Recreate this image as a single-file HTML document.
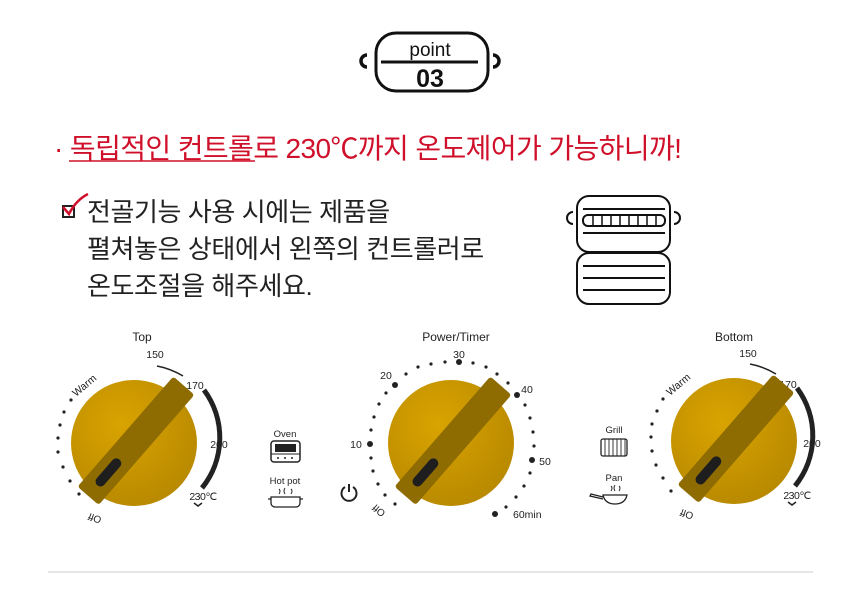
<!DOCTYPE html>
<html><head><meta charset="utf-8"><style>
html,body{margin:0;padding:0;background:#fff;}
body{width:860px;height:592px;position:relative;overflow:hidden;font-family:"Liberation Sans","Noto Sans CJK KR",sans-serif;}
.t{position:absolute;white-space:nowrap;}
</style></head><body>
<svg width="860" height="592" style="position:absolute;left:0;top:0" xmlns="http://www.w3.org/2000/svg">
<defs>
<radialGradient id="g" cx="0.4" cy="0.35" r="0.75"><stop offset="0" stop-color="#d9a400"/><stop offset="1" stop-color="#b58600"/></radialGradient>
<g id="knob">
<circle r="63" fill="url(#g)"/>
<g transform="rotate(-49)">
<rect x="-70" y="-14" width="146" height="28" rx="3" fill="#8f6c02"/>
<rect x="-56" y="-5" width="34" height="10" rx="5" fill="#1e1e1e"/>
</g>
</g>
</defs>
<!-- point badge -->
<rect x="376" y="33" width="112" height="58" rx="20" fill="none" stroke="#111" stroke-width="3"/>
<line x1="381" y1="62" x2="478" y2="62" stroke="#111" stroke-width="3"/>
<path d="M367 55 a6 6 0 0 0 0 12" fill="none" stroke="#111" stroke-width="3.5"/>
<path d="M493 55 a6 6 0 0 1 0 12" fill="none" stroke="#111" stroke-width="3.5"/>
<text x="430" y="56" font-size="19" text-anchor="middle" font-family="Liberation Sans, sans-serif" fill="#111">point</text>
<text x="430" y="87" font-size="25" font-weight="bold" text-anchor="middle" font-family="Liberation Sans, sans-serif" fill="#111">03</text>
<!-- underline -->
<line x1="69" y1="161" x2="255" y2="161" stroke="#d0102a" stroke-width="1.5"/>
<!-- checkbox -->
<rect x="63" y="206" width="11" height="11" fill="none" stroke="#222" stroke-width="2"/>
<path d="M63 207 L69 214 Q76 200 88 194" fill="none" stroke="#d0102a" stroke-width="2.5"/>
<!-- grill icon -->
<rect x="577" y="196" width="93" height="56" rx="12" fill="none" stroke="#111" stroke-width="2"/>
<rect x="577" y="253" width="93" height="51" rx="12" fill="none" stroke="#111" stroke-width="2"/>
<path d="M573 212 a6 6 0 0 0 0 12" fill="none" stroke="#111" stroke-width="2"/>
<path d="M674 212 a6 6 0 0 1 0 12" fill="none" stroke="#111" stroke-width="2"/>
<line x1="583" y1="209" x2="665" y2="209" stroke="#111" stroke-width="2"/>
<line x1="583" y1="233" x2="665" y2="233" stroke="#111" stroke-width="2"/>
<rect x="583" y="215" width="82" height="11" rx="5" fill="none" stroke="#111" stroke-width="2"/>
<g stroke="#111" stroke-width="1.5"><line x1="593" y1="215" x2="593" y2="226"/><line x1="602" y1="215" x2="602" y2="226"/><line x1="611" y1="215" x2="611" y2="226"/><line x1="620" y1="215" x2="620" y2="226"/><line x1="629" y1="215" x2="629" y2="226"/><line x1="638" y1="215" x2="638" y2="226"/><line x1="647" y1="215" x2="647" y2="226"/><line x1="656" y1="215" x2="656" y2="226"/></g>
<line x1="583" y1="266" x2="665" y2="266" stroke="#111" stroke-width="2"/>
<line x1="583" y1="278" x2="665" y2="278" stroke="#111" stroke-width="2"/>
<line x1="583" y1="290" x2="665" y2="290" stroke="#111" stroke-width="2"/>

<!-- Top knob -->
<g font-family="Liberation Sans, sans-serif" fill="#222">
<text x="142" y="341" font-size="12" text-anchor="middle">Top</text>
<text x="155" y="358" font-size="10.5" text-anchor="middle">150</text>
<text x="195" y="389" font-size="10.5" text-anchor="middle">170</text>
<text x="219" y="448" font-size="10.5" text-anchor="middle">200</text>
<text x="203" y="500" font-size="10.5" text-anchor="middle" letter-spacing="-0.5">230℃</text>
<text x="0" y="0" font-size="10.5" transform="translate(76,397) rotate(-40)">Warm</text>
<text x="0" y="0" font-size="10" transform="translate(96,515) rotate(200)" text-anchor="middle">Off</text>
</g>
<path d="M157 366 A80 80 0 0 1 183 376" fill="none" stroke="#222" stroke-width="1.5"/>
<path d="M204 390 A80 80 0 0 1 202 488" fill="none" stroke="#222" stroke-width="5"/>
<path d="M194 503 l4 3 l4-3" fill="none" stroke="#222" stroke-width="1.5"/>
<g fill="#222"><circle cx="71" cy="400" r="1.6"/><circle cx="64" cy="412" r="1.6"/><circle cx="60" cy="425" r="1.6"/><circle cx="58" cy="438" r="1.6"/><circle cx="58" cy="452" r="1.6"/><circle cx="63" cy="467" r="1.6"/><circle cx="70" cy="481" r="1.6"/><circle cx="79" cy="494" r="1.6"/></g>
<use href="#knob" x="134" y="443"/>

<!-- Oven / Hot pot -->
<g font-family="Liberation Sans, sans-serif" fill="#222" font-size="9.5" text-anchor="middle">
<text x="285" y="437">Oven</text><text x="285" y="484">Hot pot</text>
<text x="614" y="433">Grill</text><text x="614" y="481">Pan</text>
</g>
<rect x="271" y="441" width="29" height="21" rx="3" fill="none" stroke="#222" stroke-width="1.5"/>
<rect x="275" y="444" width="21" height="8" fill="#222"/>
<line x1="271" y1="454" x2="300" y2="454" stroke="#222" stroke-width="1"/>
<g fill="#222"><circle cx="278" cy="458" r="1"/><circle cx="285" cy="458" r="1"/><circle cx="292" cy="458" r="1"/></g>
<path d="M271 497 h29 v6 a4 4 0 0 1 -4 4 h-21 a4 4 0 0 1 -4 -4z M268 499 h3 M300 499 h3" fill="none" stroke="#222" stroke-width="1.3"/>
<path d="M279 489 q2 2 0 5 M285 488 q-2 3 0 6 M291 489 q2 2 0 5" fill="none" stroke="#222" stroke-width="1"/>
<!-- grill small -->
<rect x="601" y="439" width="26" height="17" rx="2" fill="none" stroke="#222" stroke-width="1.3"/>
<g stroke="#222" stroke-width="0.9"><line x1="605" y1="439" x2="605" y2="456"/><line x1="609" y1="439" x2="609" y2="456"/><line x1="613" y1="439" x2="613" y2="456"/><line x1="617" y1="439" x2="617" y2="456"/><line x1="621" y1="439" x2="621" y2="456"/><line x1="625" y1="439" x2="625" y2="456"/></g>
<path d="M603 495 h24 q-2 9 -12 9 q-10 0 -12 -9z M603 497 l-12 -3 l-1 2 l13 3" fill="none" stroke="#222" stroke-width="1.3"/>
<path d="M611 486 q2 2 0 5 M615 485 q-2 3 0 6 M619 486 q2 2 0 5" fill="none" stroke="#222" stroke-width="1"/>

<!-- Timer -->
<g font-family="Liberation Sans, sans-serif" fill="#222" font-size="10.5">
<text x="456" y="341" font-size="12" text-anchor="middle">Power/Timer</text>
<text x="459" y="358" text-anchor="middle">30</text>
<text x="386" y="379" text-anchor="middle">20</text>
<text x="527" y="393" text-anchor="middle">40</text>
<text x="356" y="448" text-anchor="middle">10</text>
<text x="545" y="465" text-anchor="middle">50</text>
<text x="513" y="518">60min</text>
<text x="0" y="0" font-size="10" transform="translate(381,508) rotate(220)" text-anchor="middle">Off</text>
</g>
<g fill="#222">
<circle cx="459" cy="362" r="3"/><circle cx="395" cy="385" r="3"/><circle cx="517" cy="395" r="3"/><circle cx="370" cy="444" r="3"/><circle cx="532" cy="460" r="3"/><circle cx="495" cy="514" r="3"/>
<circle cx="445" cy="362" r="1.6"/><circle cx="431" cy="364" r="1.6"/><circle cx="418" cy="367" r="1.6"/><circle cx="406" cy="374" r="1.6"/>
<circle cx="473" cy="363" r="1.6"/><circle cx="486" cy="367" r="1.6"/><circle cx="497" cy="374" r="1.6"/><circle cx="508" cy="383" r="1.6"/>
<circle cx="386" cy="393" r="1.6"/><circle cx="379" cy="404" r="1.6"/><circle cx="374" cy="417" r="1.6"/><circle cx="371" cy="430" r="1.6"/>
<circle cx="525" cy="405" r="1.6"/><circle cx="530" cy="418" r="1.6"/><circle cx="533" cy="432" r="1.6"/><circle cx="534" cy="446" r="1.6"/>
<circle cx="371" cy="458" r="1.6"/><circle cx="373" cy="471" r="1.6"/><circle cx="378" cy="484" r="1.6"/><circle cx="385" cy="495" r="1.6"/><circle cx="395" cy="504" r="1.6"/>
<circle cx="530" cy="473" r="1.6"/><circle cx="524" cy="486" r="1.6"/><circle cx="516" cy="497" r="1.6"/><circle cx="506" cy="507" r="1.6"/>
</g>
<path d="M345 487 a7.5 7.5 0 1 0 8 0 M349 484 v8" fill="none" stroke="#222" stroke-width="2"/>
<use href="#knob" x="451" y="443"/>

<!-- Bottom knob -->
<g font-family="Liberation Sans, sans-serif" fill="#222">
<text x="734" y="341" font-size="12" text-anchor="middle">Bottom</text>
<text x="748" y="357" font-size="10.5" text-anchor="middle">150</text>
<text x="788" y="388" font-size="10.5" text-anchor="middle">170</text>
<text x="812" y="447" font-size="10.5" text-anchor="middle">200</text>
<text x="797" y="499" font-size="10.5" text-anchor="middle" letter-spacing="-0.5">230℃</text>
<text x="0" y="0" font-size="10.5" transform="translate(670,396) rotate(-40)">Warm</text>
<text x="0" y="0" font-size="10" transform="translate(688,511) rotate(200)" text-anchor="middle">Off</text>
</g>
<path d="M750 364 A80 80 0 0 1 776 374" fill="none" stroke="#222" stroke-width="1.5"/>
<path d="M797 388 A80 80 0 0 1 795 486" fill="none" stroke="#222" stroke-width="5"/>
<path d="M788 502 l4 3 l4-3" fill="none" stroke="#222" stroke-width="1.5"/>
<g fill="#222"><circle cx="663" cy="399" r="1.6"/><circle cx="657" cy="411" r="1.6"/><circle cx="652" cy="424" r="1.6"/><circle cx="651" cy="437" r="1.6"/><circle cx="652" cy="451" r="1.6"/><circle cx="656" cy="465" r="1.6"/><circle cx="663" cy="478" r="1.6"/><circle cx="671" cy="491" r="1.6"/></g>
<use href="#knob" x="734" y="441"/>

<line x1="48" y1="572" x2="813" y2="572" stroke="#ddd" stroke-width="1.5"/>
</svg>
<div class="t" style="left:54px;top:127px;font-size:28px;color:#d0102a;letter-spacing:-0.6px;">· 독립적인 컨트롤로 230℃까지 온도제어가 가능하니까!</div>
<div class="t" style="left:87px;top:194px;font-size:26px;color:#222;line-height:37px;letter-spacing:-0.4px;">전골기능 사용 시에는 제품을<br>펼쳐놓은 상태에서 왼쪽의 컨트롤러로<br>온도조절을 해주세요.</div>
</body></html>
